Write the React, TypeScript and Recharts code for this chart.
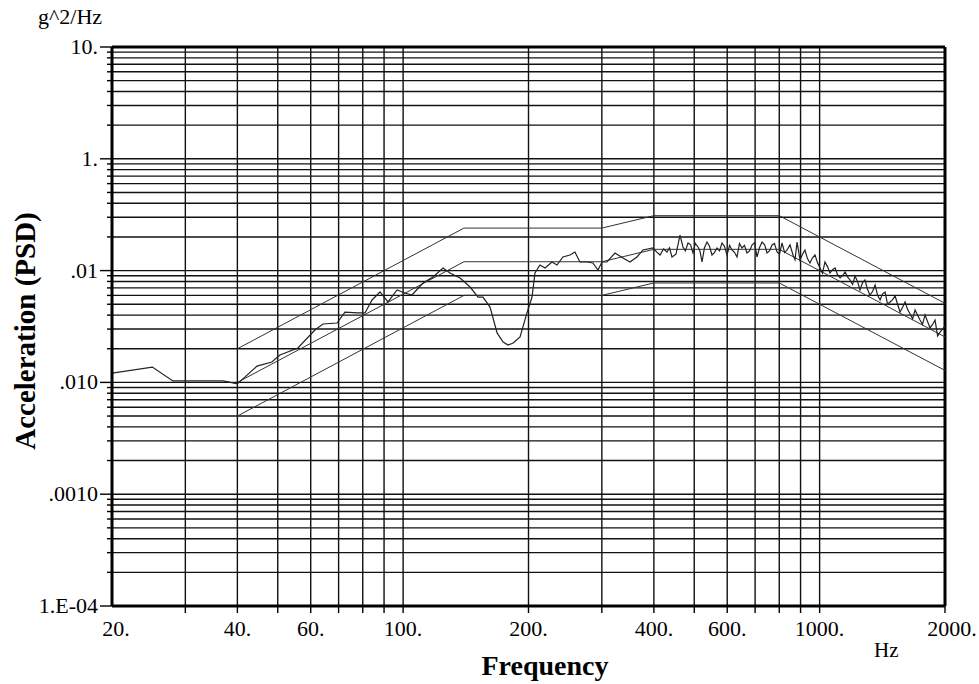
import React from "react";
import { LineChart, Line, XAxis, YAxis, CartesianGrid, ReferenceLine } from "recharts";

// measured PSD (Hz, g^2/Hz)
const measFreq = [
  20, 25, 28, 37, 40, 44.6, 48.4, 50.6, 55.9, 61.4, 64.2, 69.4, 72.5, 77.9, 81, 84.2, 88, 92, 96.7, 101,
  105, 111.6, 118, 124.7, 129.6, 137, 144.8, 151.3, 155.5, 161.7, 168.1, 173.8, 178.6, 183.7, 190.9, 198.3,
  203.9, 207.3, 213.1, 219.1, 227.7, 234.1, 241.9, 251.5, 258.5, 265.8, 276.3, 285.6, 293.6, 300.2, 308.6,
  322.6, 337.2, 350.5, 364.3, 376.6,
  398, 406, 413.8, 422, 430.1, 436, 442.1, 452, 462.1, 469.8, 476, 483.1, 490, 496.6, 503, 510.5, 516, 521.9,
  529, 536.5, 544, 551.5, 559, 567, 575, 582.9, 591, 599.2, 608, 616, 625, 633.3, 642, 651, 660, 669.3, 679,
  688.1, 698, 707.4, 717, 727.3, 738, 747.7, 758, 768.7, 779, 790.3, 801, 812.4, 824, 835.2, 849, 863.2, 873,
  882.6, 890, 897, 910, 922, 935, 948, 961, 975, 988, 1002, 1016, 1030, 1045, 1059, 1074, 1089, 1104, 1120,
  1135, 1151, 1167, 1183, 1200, 1216, 1233, 1250, 1268, 1285, 1303, 1321, 1340, 1359, 1378, 1397, 1416, 1436,
  1456, 1476, 1497, 1518, 1539, 1560, 1582, 1604, 1626, 1649, 1672, 1695, 1718, 1742, 1766, 1791, 1816, 1841,
  1867, 1893, 1920, 1946, 1973, 2000,
];
const measPsd = [
  0.0121, 0.0137, 0.0103, 0.0103, 0.0097, 0.014, 0.0152, 0.0176, 0.0203, 0.0294, 0.0333, 0.034, 0.0426,
  0.0418, 0.0418, 0.0546, 0.0644, 0.0524, 0.0671, 0.063, 0.0605, 0.0775, 0.0877, 0.1055, 0.0952, 0.0859,
  0.0713, 0.058, 0.058, 0.0472, 0.0277, 0.023, 0.0216, 0.0225, 0.0255, 0.0418, 0.058, 0.0952, 0.1122, 0.1055,
  0.1194, 0.1122, 0.1323, 0.1379, 0.1466, 0.1194, 0.1194, 0.1169, 0.1012, 0.1194, 0.1194, 0.1437, 0.1296,
  0.1194, 0.1323, 0.1529,
  0.1593, 0.147, 0.1379, 0.156, 0.1466, 0.16, 0.1323, 0.14, 0.208, 0.1626, 0.15, 0.1766, 0.17, 0.1437, 0.175,
  0.1626, 0.15, 0.1194, 0.16, 0.18, 0.165, 0.1379, 0.145, 0.1593, 0.15, 0.1766, 0.165, 0.1379, 0.168, 0.1529,
  0.145, 0.1323, 0.175, 0.1593, 0.168, 0.1437, 0.15, 0.1694, 0.178, 0.1323, 0.16, 0.18, 0.17, 0.1437, 0.15,
  0.1694, 0.175, 0.1466, 0.14, 0.1766, 0.145, 0.1529, 0.17, 0.1379, 0.125, 0.18, 0.15, 0.1244, 0.14, 0.1529,
  0.128, 0.1169, 0.13, 0.1379, 0.118, 0.1055, 0.095, 0.1194, 0.108, 0.0952, 0.102, 0.1055, 0.092, 0.0859,
  0.09, 0.0971, 0.088, 0.0824, 0.075, 0.0895, 0.08, 0.0671, 0.078, 0.0824, 0.068, 0.0605, 0.065, 0.0743, 0.06,
  0.0546, 0.062, 0.0644, 0.05, 0.0524, 0.055, 0.0593, 0.05, 0.0426, 0.047, 0.0524, 0.045, 0.0409, 0.037,
  0.0444, 0.04, 0.0361, 0.033, 0.0401, 0.035, 0.0307, 0.033, 0.0361, 0.026, 0.0282, 0.03, 0.032,
];

// test profile with +/-3 dB tolerance bands
const maskFreq = [40, 140, 300, 400, 800, 2000];
const nominal = [0.01, 0.12, 0.12, 0.155, 0.155, 0.0255];
const upper = [0.02, 0.24, 0.24, 0.31, 0.31, 0.051];
const lower = [0.005, 0.06, 0.06, 0.0775, 0.0775, 0.0128];

const xTicks = [20, 30, 40, 50, 60, 70, 80, 90, 100, 200, 300, 400, 500, 600, 700, 800, 900, 1000, 2000];
const xLabeled = [20, 40, 60, 100, 200, 400, 600, 1000, 2000];
const yDecades = [0.0001, 0.001, 0.01, 0.1, 1];
const yMantissa = [1, 2, 3, 4, 5, 6, 7, 8, 9];
const yMajor = [10, 1, 0.1, 0.01, 0.001, 0.0001];
const yMajorLabels = ["10.", "1.", ".01", ".010", ".0010", "1.E-04"];

const yTicks = [...yDecades.flatMap((d) => yMantissa.map((m) => +(m * d).toPrecision(3))), 10];

const measured = measFreq.map((f, i) => ({ f, psd: measPsd[i] }));
const toSeries = (vals: number[]) => maskFreq.map((f, i) => ({ f, psd: vals[i] }));

const FONT = "'Liberation Serif', 'Times New Roman', serif";

function XTick({ x, y, payload }: any) {
  const v = payload.value;
  const show = xLabeled.includes(v);
  return (
    <g>
      {v !== 20 && <line x1={x} x2={x} y1={y} y2={y + 7} stroke="#000" strokeWidth={1.4} />}
      {show && (
        <text x={v === 20 ? x + 4 : v === 2000 ? x + 7 : x} y={y + 30} textAnchor="middle" fontFamily={FONT} fontSize={22} fill="#000">
          {v}.
        </text>
      )}
    </g>
  );
}

function YTick({ x, y, payload }: any) {
  const v = payload.value;
  const idx = yMajor.findIndex((m) => Math.abs(Math.log10(m) - Math.log10(v)) < 1e-6);
  const major = idx >= 0;
  return (
    <g>
      <line x1={x - (major ? 12 : 5)} x2={x} y1={y} y2={y} stroke="#000" strokeWidth={1.4} />
      {major && (
        <text x={x - 14} y={y + 7} textAnchor="end" fontFamily={FONT} fontSize={22} fill="#000">
          {yMajorLabels[idx]}
        </text>
      )}
    </g>
  );
}

export default function App() {
  return (
    <div style={{ position: "absolute", left: 0, top: 0, width: 979, height: 684, background: "#fff", fontFamily: FONT }}>
      <LineChart width={979} height={684} margin={{ top: 47, right: 34, bottom: 48, left: 52 }}>
        <CartesianGrid stroke="#111" strokeWidth={1.4} />
        <XAxis
          dataKey="f"
          type="number"
          scale="log"
          domain={[20, 2000]}
          allowDataOverflow
          ticks={xTicks}
          interval={0}
          height={30}
          tickSize={0}
          tickMargin={0}
          tick={(p: any) => <XTick {...p} />}
          axisLine={{ stroke: "#000", strokeWidth: 3 }}
        />
        <YAxis
          type="number"
          scale="log"
          domain={[0.0001, 10]}
          allowDataOverflow
          ticks={yTicks}
          interval={0}
          width={60}
          tickSize={0}
          tickMargin={0}
          tick={(p: any) => <YTick {...p} />}
          axisLine={{ stroke: "#000", strokeWidth: 3 }}
        />
        <ReferenceLine y={10} stroke="#000" strokeWidth={3} />
        <ReferenceLine x={2000} stroke="#000" strokeWidth={3} />
        <Line data={toSeries(upper)} dataKey="psd" stroke="#333" strokeWidth={1} dot={false} isAnimationActive={false} />
        <Line data={toSeries(nominal)} dataKey="psd" stroke="#333" strokeWidth={1} dot={false} isAnimationActive={false} />
        <Line data={toSeries(lower)} dataKey="psd" stroke="#333" strokeWidth={1} dot={false} isAnimationActive={false} />
        <Line data={measured} dataKey="psd" stroke="#222" strokeWidth={1.2} dot={false} isAnimationActive={false} />
      </LineChart>
      <div style={{ position: "absolute", left: 38, top: 4, fontSize: 22, whiteSpace: "nowrap" }}>g^2/Hz</div>
      <div style={{ position: "absolute", left: 874, top: 638, fontSize: 21 }}>Hz</div>
      <div style={{ position: "absolute", left: 0, width: 1090, top: 650, textAlign: "center", fontSize: 28, fontWeight: "bold" }}>
        Frequency
      </div>
      <div
        style={{
          position: "absolute",
          left: 25,
          top: 331,
          transform: "translate(-50%, -50%) rotate(-90deg)",
          fontSize: 29,
          fontWeight: "bold",
          whiteSpace: "nowrap",
        }}
      >
        Acceleration (PSD)
      </div>
    </div>
  );
}
